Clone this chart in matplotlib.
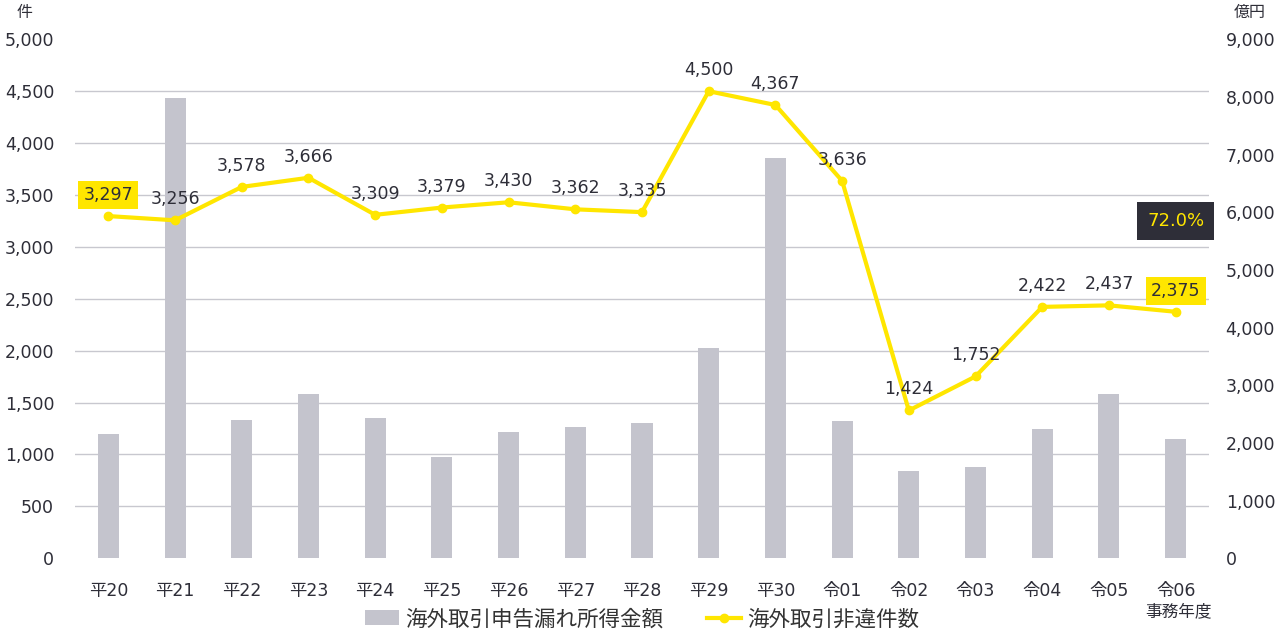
import numpy as np
import matplotlib
matplotlib.use("Agg")
import matplotlib.pyplot as plt
from matplotlib.patches import Patch
from matplotlib.lines import Line2D

plt.rcParams['font.family'] = ['DejaVu Sans', 'Noto Sans CJK JP']

years = ["平20", "平21", "平22", "平23", "平24", "平25", "平26", "平27", "平28",
         "平29", "平30", "令01", "令02", "令03", "令04", "令05", "令06"]
amount = [2155, 7980, 2400, 2850, 2435, 1757, 2190, 2277, 2346,
          3650, 6940, 2380, 1515, 1585, 2240, 2850, 2070]   # 億円
cases = [3297, 3256, 3578, 3666, 3309, 3379, 3430, 3362, 3335,
         4500, 4367, 3636, 1424, 1752, 2422, 2437, 2375]    # 件
boxed = [0, 16]

txt = "#2e2e38"
gray = "#c4c4cd"
yellow = "#ffe600"

fig = plt.figure(figsize=(12.81, 6.30), dpi=100)
ax = fig.add_axes([75 / 1281, 1 - 558.3 / 630, 1134 / 1281, 519 / 630])
ax2 = ax.twinx()

x = np.arange(len(years))
ax.bar(x, amount, width=0.315, color=gray, zorder=2)
ax.set_ylim(0, 9000)
ax.set_yticks(np.arange(0, 9001, 1000))
ax.set_yticks(np.arange(0, 9001, 900), minor=True)
ax.grid(which='minor', axis='y', color="#c8c8cf", linewidth=1)
ax.set_axisbelow(True)
ax.yaxis.tick_right()
ax.tick_params(axis='y', which='both', length=0, pad=12, labelsize=12.5, labelcolor=txt)
ax.set_yticklabels([f"{v:,}" for v in range(0, 9001, 1000)])
ax.set_xlim(-0.5, len(years) - 0.5)
ax.set_xticks(x)
ax.set_xticklabels(years)
ax.tick_params(axis='x', length=0, pad=17, labelsize=12.5, labelcolor=txt)
for s in ax.spines.values():
    s.set_visible(False)

ax2.plot(x, cases, color=yellow, linewidth=3, marker='o', markersize=6, zorder=3)
ax2.set_ylim(0, 5000)
ax2.set_yticks(np.arange(0, 5001, 500))
ax2.set_yticklabels([f"{v:,}" for v in range(0, 5001, 500)])
ax2.yaxis.tick_left()
ax2.tick_params(axis='y', length=0, pad=15, labelsize=12.5, labelcolor=txt)
for s in ax2.spines.values():
    s.set_visible(False)

for i, v in enumerate(cases):
    kw = {}
    if i in boxed:
        kw['bbox'] = dict(boxstyle='square,pad=0.3', facecolor=yellow, edgecolor='none')
    ax2.annotate(f"{v:,}", (i, v), xytext=(0, 21), textcoords='offset pixels',
                 ha='center', va='center', fontsize=12.5, color=txt, **kw)

ax2.text(16, 3250, "72.0%", ha='center', va='center', fontsize=13, color=yellow,
         bbox=dict(boxstyle='square,pad=0.55', facecolor=txt, edgecolor='none'))

fig.text(25 / 1281, 1 - 12 / 630, "件", ha='center', va='center', fontsize=11.5, color=txt)
fig.text(1250 / 1281, 1 - 12 / 630, "億円", ha='center', va='center', fontsize=11.5, color=txt)
fig.text(1178 / 1281, 1 - 611 / 630, "事務年度", ha='center', va='center', fontsize=12, color=txt)

handles = [Patch(facecolor=gray, edgecolor='none'),
           Line2D([], [], color=yellow, linewidth=3, marker='o', markersize=6)]
fig.legend(handles, ["海外取引申告漏れ所得金額", "海外取引非違件数"], loc='center',
           bbox_to_anchor=(642 / 1281, 1 - 619 / 630), ncol=2, frameon=False,
           fontsize=15.5, handlelength=1.6, handletextpad=0.3, columnspacing=2.0,
           labelcolor="#333333")

fig.savefig("out.png", dpi=100)
